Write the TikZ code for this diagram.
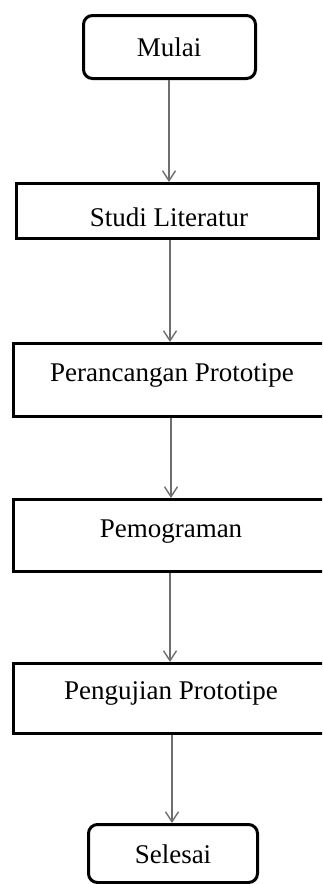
\documentclass[tikz,border=0pt]{standalone}
\usepackage{fontspec}
\setmainfont{Liberation Serif}
\usetikzlibrary{arrows.meta}
\definecolor{arrgray}{HTML}{6E6E6E}
\tikzset{
  box/.style={draw=black, line width=3pt, inner sep=0pt, fill=white},
  term/.style={box, rounded corners=9pt},
  lbl/.style={anchor=base, inner sep=0pt, font=\fontsize{27pt}{30pt}\selectfont},
  arr/.style={draw=arrgray, line width=1.4pt, -{Straight Barb[length=10pt,width=13pt,line width=1.4pt]}},
}
\begin{document}
\begin{tikzpicture}[x=1pt,y=-1pt]
\useasboundingbox (0,0) rectangle (322,884);
\clip (0,0) rectangle (322,884);
% boxes
\node[term, minimum width=172pt, minimum height=63pt] (b1) at (169.5,47) {};
\node[box, minimum width=302pt, minimum height=55pt] (b2) at (167.5,211) {};
\node[box, minimum width=318pt, minimum height=73pt] (b3) at (172.5,380) {};
\node[box, minimum width=318pt, minimum height=72pt] (b4) at (172.5,535.5) {};
\node[box, minimum width=318pt, minimum height=70pt] (b5) at (172.5,698.5) {};
\node[term, minimum width=169pt, minimum height=58pt] (b6) at (173,853.5) {};
% texts
\node[lbl] (t1) at (169,56) {Mulai};
\node[lbl] (t2) at (169,226) {Studi Literatur};
\node[lbl] (t3) at (172,381) {Perancangan Prototipe};
\node[lbl] (t4) at (171,537) {Pemograman};
\node[lbl] (t5) at (171,699) {Pengujian Prototipe};
\node[lbl] (t6) at (173,863) {Selesai};
% arrows
\coordinate (a1) at (169,0);
\coordinate (a2) at (170,0);
\coordinate (a3) at (171,0);
\coordinate (a4) at (170,0);
\coordinate (a5) at (172,0);
\draw[arr] (a1 |- b1.south) -- (a1 |- b2.north);
\draw[arr] (a2 |- b2.south) -- (a2 |- b3.north);
\draw[arr] (a3 |- b3.south) -- (a3 |- b4.north);
\draw[arr] (a4 |- b4.south) -- (a4 |- b5.north);
\draw[arr] (a5 |- b5.south) -- (a5 |- b6.north);
\end{tikzpicture}
\end{document}
